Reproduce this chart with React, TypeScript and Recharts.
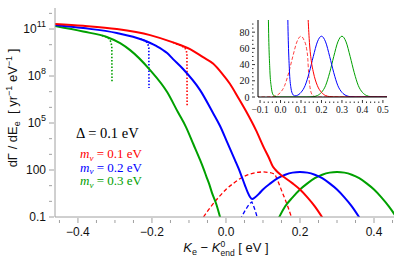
import React from 'react';
import { LineChart, Line, XAxis, YAxis } from 'recharts';

// x = K_e - K0_end [eV], y = dΓ/dE_e [yr^-1 eV^-1]

// m = 0.1 eV: total spectrum (solid)
const redX = [-0.462, -0.386, -0.295, -0.205, -0.143, -0.097, -0.062, -0.035, -0.011, 0.011, 0.032, 0.054, 0.081, 0.103, 0.115, 0.127, 0.133, 0.14, 0.15, 0.16, 0.18, 0.2, 0.22, 0.24, 0.26, 0.28, 0.53];
const redY = [2.1e11, 1.6e11, 1.0e11, 4.1e10, 1.4e10, 5.2e9, 1.6e9, 6.3e8, 1.5e8, 3.1e7, 4.6e6, 5.8e5, 3.5e4, 2.5e3, 680, 160, 108, 72, 45, 31, 14, 5.7, 1.8, 0.48, 0.096, 0.016, 0.0001];
// m = 0.1 eV: dashed (relic peak, then beta tail past the crossing)
const redDashX = [-0.12, -0.08, -0.062, -0.04, -0.02, 0, 0.02, 0.04, 0.06, 0.08, 0.1, 0.115, 0.127, 0.133, 0.137, 0.141, 0.146, 0.152, 0.16, 0.168, 0.178, 0.19, 0.53];
const redDashY = [0.0001, 0.016, 0.09, 0.48, 1.8, 5.7, 14, 30, 50, 68, 75, 70, 60, 48, 30, 18, 9, 3.8, 1.3, 0.4, 0.08, 0.008, 0.0001];
// m = 0.1 eV: unsmeared endpoint (dotted)
const redDotX = [-0.143, -0.125, -0.115, -0.11, -0.107, -0.1055, -0.105];
const redDotY = [1.4e10, 9.4e9, 7.2e9, 5.6e9, 4.0e9, 2.6e9, 1.1e6];

// m = 0.2 eV
const blueX = [-0.462, -0.386, -0.295, -0.224, -0.19, -0.159, -0.143, -0.116, -0.07, -0.035, -0.016, 0.004, 0.024, 0.034, 0.043, 0.051, 0.059, 0.065, 0.071, 0.078, 0.09, 0.1, 0.12, 0.14, 0.16, 0.18, 0.2, 0.22, 0.24, 0.26, 0.28, 0.3, 0.32, 0.34, 0.36, 0.38, 0.53];
const blueY = [1.8e11, 1.15e11, 5.6e10, 2.0e10, 8.7e9, 2.9e9, 1.2e9, 2.8e8, 1.26e7, 4.4e5, 6.5e4, 5.4e3, 440, 125, 35, 11, 3.6, 1.9, 1.4, 1.75, 3.2, 5.7, 14, 30, 50, 68, 75, 68, 50, 30, 14, 5.7, 1.8, 0.48, 0.096, 0.016, 0.0001];
const blueDashX = [0.03, 0.042, 0.05, 0.058, 0.064, 0.07, 0.074, 0.078, 0.082, 0.086, 0.1];
const blueDashY = [0.01, 0.1, 0.22, 0.45, 0.72, 0.9, 0.55, 0.3, 0.15, 0.07, 0.005];
const blueDotX = [-0.232, -0.222, -0.215, -0.211, -0.2085, -0.208];
const blueDotY = [2.4e10, 1.9e10, 1.5e10, 1.1e10, 6.5e9, 1.7e7];

// m = 0.3 eV
const greenX = [-0.462, -0.386, -0.322, -0.286, -0.259, -0.205, -0.159, -0.13, -0.108, -0.088, -0.07, -0.06, -0.052, -0.045, -0.038, -0.027, -0.016, -0.005, 0.125, 0.144, 0.16, 0.18, 0.2, 0.22, 0.24, 0.26, 0.28, 0.3, 0.32, 0.34, 0.36, 0.38, 0.4, 0.42, 0.44, 0.46, 0.48, 0.53];
const greenY = [1.55e11, 6.9e10, 3.1e10, 1.26e10, 4.5e9, 2.4e8, 9.5e6, 5.0e5, 5.5e4, 4.4e3, 440, 110, 33, 12, 3.6, 0.75, 0.1, 0.012, 0.012, 0.1, 0.48, 1.8, 5.7, 14, 30, 50, 68, 75, 68, 50, 30, 14, 5.7, 1.8, 0.48, 0.1, 0.016, 0.0001];
const greenDotX = [-0.335, -0.322, -0.315, -0.311, -0.3085, -0.308];
const greenDotY = [3.8e10, 3.1e10, 2.3e10, 1.5e10, 8e9, 4.3e7];

const massLabels = ['0.1', '0.2', '0.3'];

// ticks
const mainXTicks = [-0.45, -0.4, -0.35, -0.3, -0.25, -0.2, -0.15, -0.1, -0.05, 0, 0.05, 0.1, 0.15, 0.2, 0.25, 0.3, 0.35, 0.4, 0.45];
const mainXLabels = [-0.4, -0.2, 0, 0.2, 0.4];
const mainYTicks = [0.1, 1, 10, 100, 1e3, 1e4, 1e5, 1e6, 1e7, 1e8, 1e9, 1e10, 1e11, 1e12];
const mainYLabels = [0.1, 100, 1e5, 1e8, 1e11];
const mainYLabelBase = ['0.1', '100', '10', '10', '10'];
const mainYLabelExp = ['', '', '5', '8', '11'];
const insetXTicks = [-0.1, -0.08, -0.06, -0.04, -0.02, 0, 0.02, 0.04, 0.06, 0.08, 0.1, 0.12, 0.14, 0.16, 0.18, 0.2, 0.22, 0.24, 0.26, 0.28, 0.3, 0.32, 0.34, 0.36, 0.38, 0.4, 0.42, 0.44, 0.46, 0.48, 0.5];
const insetXLabels = [-0.1, 0, 0.1, 0.2, 0.3, 0.4, 0.5];
const insetYTicks = [0, 5, 10, 15, 20, 25, 30, 35, 40, 45, 50, 55, 60, 65, 70, 75, 80, 85, 90];
const insetYLabels = [0, 20, 40, 60, 80];

const RED = '#ff0000';
const BLUE = '#0000ff';
const GREEN = '#00a000';
const FRAME = '#a0a0a0';
const SANS = '"Liberation Sans", Arial, sans-serif';
const SERIF = '"Liberation Serif", "Times New Roman", serif';

const pts = (xs: number[], ys: number[]) => xs.map((x, i) => ({ x, y: ys[i] }));
// the inset only needs the part of each curve near its window
const insetPts = (xs: number[], ys: number[]) => pts(xs, ys).filter((p) => p.x >= -0.13 && p.y <= 2e4);

const idx = (arr: number[], v: number) => arr.findIndex((a) => Math.abs(a - v) <= 1e-9 * Math.max(1, Math.abs(a)));
const fmt1 = (v: number) => (v < -1e-9 ? '\u2212' : '') + Math.abs(v).toFixed(1);

const MainBottomTick = ({ x, y, payload }: any) => {
  const major = idx(mainXLabels, payload.value) >= 0;
  return (
    <g>
      <line x1={x} x2={x} y1={y} y2={y - (major ? 5 : 3)} stroke={FRAME} />
      {major && (
        <text x={x} y={y + 13} textAnchor="middle" fontSize={12} fontFamily={SANS} fill="#111">
          {fmt1(payload.value)}
        </text>
      )}
    </g>
  );
};

const MainTopTick = ({ x, y, payload }: any) => {
  const major = idx(mainXLabels, payload.value) >= 0;
  return <line x1={x} x2={x} y1={y} y2={y + (major ? 5 : 3)} stroke={FRAME} />;
};

const MainLeftTick = ({ x, y, payload }: any) => {
  const i = idx(mainYLabels, payload.value);
  return (
    <g>
      <line x1={x} x2={x + (i >= 0 ? 5 : 3)} y1={y} y2={y} stroke={FRAME} />
      {i >= 0 && (
        <text x={x - 3} y={y + 4} textAnchor="end" fontSize={12} fontFamily={SANS} fill="#111">
          {mainYLabelBase[i]}
          {mainYLabelExp[i] && (
            <tspan fontSize={9} dy={-6}>
              {mainYLabelExp[i]}
            </tspan>
          )}
        </text>
      )}
    </g>
  );
};

const MainRightTick = ({ x, y, payload }: any) => {
  const major = idx(mainYLabels, payload.value) >= 0;
  return <line x1={x} x2={x - (major ? 5 : 3)} y1={y} y2={y} stroke={FRAME} />;
};

const InsetBottomTick = ({ x, y, payload }: any) => {
  const major = idx(insetXLabels, payload.value) >= 0;
  return (
    <g>
      <line x1={x} x2={x} y1={y} y2={y - (major ? 3 : 1.5)} stroke="#000" strokeWidth={0.8} />
      {major && (
        <text x={x} y={y + 9.5} textAnchor="middle" fontSize={9.5} fontFamily={SERIF} fill="#111">
          {fmt1(payload.value)}
        </text>
      )}
    </g>
  );
};

const InsetTopTick = ({ x, y, payload }: any) => {
  const major = idx(insetXLabels, payload.value) >= 0;
  return <line x1={x} x2={x} y1={y} y2={y + (major ? 3 : 1.5)} stroke="#000" strokeWidth={0.8} />;
};

const InsetLeftTick = ({ x, y, payload }: any) => {
  const major = idx(insetYLabels, payload.value) >= 0;
  return (
    <g>
      <line x1={x} x2={x + (major ? 3 : 1.5)} y1={y} y2={y} stroke="#000" strokeWidth={0.8} />
      {major && (
        <text x={x - 2.5} y={y + 3.5} textAnchor="end" fontSize={10} fontFamily={SERIF} fill="#111">
          {payload.value}
        </text>
      )}
    </g>
  );
};

const InsetRightTick = ({ x, y, payload }: any) => {
  const major = idx(insetYLabels, payload.value) >= 0;
  return <line x1={x} x2={x - (major ? 3 : 1.5)} y1={y} y2={y} stroke="#000" strokeWidth={0.8} />;
};

const lineBase = { dataKey: 'y', dot: false, activeDot: false, isAnimationActive: false } as const;

export default function App() {
  const legendColors = [RED, BLUE, GREEN];
  return (
    <div style={{ position: 'relative', width: 405, height: 263, background: '#fff' }}>
      <style>{`body { margin: 0; }`}</style>

      <LineChart width={405} height={263} margin={{ top: 8, right: 11, bottom: 0, left: 0 }}>
        <XAxis
          dataKey="x"
          type="number"
          domain={[-0.462, 0.454]}
          allowDataOverflow
          ticks={mainXTicks}
          interval={0}
          height={46}
          tickLine={false}
          tickMargin={0}
          stroke={FRAME}
          tick={(p: any) => <MainBottomTick {...p} />}
        />
        <XAxis
          xAxisId="top"
          orientation="top"
          dataKey="x"
          type="number"
          domain={[-0.462, 0.454]}
          allowDataOverflow
          ticks={mainXTicks}
          interval={0}
          height={0}
          tickLine={false}
          tickMargin={0}
          stroke={FRAME}
          tick={(p: any) => <MainTopTick {...p} />}
        />
        <YAxis
          scale="log"
          type="number"
          domain={[0.1, 2.2e12]}
          allowDataOverflow
          ticks={mainYTicks}
          interval={0}
          width={55}
          tickLine={false}
          tickMargin={0}
          stroke={FRAME}
          tick={(p: any) => <MainLeftTick {...p} />}
        />
        <YAxis
          yAxisId="right"
          orientation="right"
          scale="log"
          type="number"
          domain={[0.1, 2.2e12]}
          allowDataOverflow
          ticks={mainYTicks}
          interval={0}
          width={0}
          tickLine={false}
          tickMargin={0}
          stroke={FRAME}
          tick={(p: any) => <MainRightTick {...p} />}
        />

        <Line {...lineBase} data={pts(redDotX, redDotY)} type="linear" stroke={RED} strokeWidth={1.6} strokeDasharray="1.5 1.8" />
        <Line {...lineBase} data={pts(blueDotX, blueDotY)} type="linear" stroke={BLUE} strokeWidth={1.6} strokeDasharray="1.5 1.8" />
        <Line {...lineBase} data={pts(greenDotX, greenDotY)} type="linear" stroke={GREEN} strokeWidth={1.6} strokeDasharray="1.5 1.8" />

        <Line {...lineBase} data={pts(redDashX, redDashY)} type="monotone" stroke={RED} strokeWidth={1.3} strokeDasharray="4 2.5" />
        <Line {...lineBase} data={pts(blueDashX, blueDashY)} type="linear" stroke={BLUE} strokeWidth={1.3} strokeDasharray="4 2.5" />

        <Line {...lineBase} data={pts(greenX, greenY)} type="monotone" stroke={GREEN} strokeWidth={2} />
        <Line {...lineBase} data={pts(blueX, blueY)} type="monotone" stroke={BLUE} strokeWidth={2} />
        <Line {...lineBase} data={pts(redX, redY)} type="monotone" stroke={RED} strokeWidth={2} />
      </LineChart>

      <div style={{ position: 'absolute', left: 225, top: 12 }}>
        <LineChart width={170} height={112} margin={{ top: 8, right: 8, bottom: 0, left: 0 }}>
          <XAxis
            dataKey="x"
            type="number"
            domain={[-0.11, 0.52]}
            allowDataOverflow
            ticks={insetXTicks}
            interval={0}
            height={27}
            tickLine={false}
            tickMargin={0}
            stroke="#000"
            tick={(p: any) => <InsetBottomTick {...p} />}
          />
          <XAxis
            xAxisId="top"
            orientation="top"
            dataKey="x"
            type="number"
            domain={[-0.11, 0.52]}
            allowDataOverflow
            ticks={insetXTicks}
            interval={0}
            height={0}
            tickLine={false}
            tickMargin={0}
            stroke="#000"
            tick={(p: any) => <InsetTopTick {...p} />}
          />
          <YAxis
            type="number"
            domain={[0, 95]}
            allowDataOverflow
            ticks={insetYTicks}
            interval={0}
            width={33}
            tickLine={false}
            tickMargin={0}
            stroke="#000"
            tick={(p: any) => <InsetLeftTick {...p} />}
          />
          <YAxis
            yAxisId="right"
            orientation="right"
            type="number"
            domain={[0, 95]}
            allowDataOverflow
            ticks={insetYTicks}
            interval={0}
            width={0}
            tickLine={false}
            tickMargin={0}
            stroke="#000"
            tick={(p: any) => <InsetRightTick {...p} />}
          />
          <Line {...lineBase} data={insetPts(redDashX, redDashY)} type="monotone" stroke={RED} strokeWidth={1} strokeDasharray="3.5 2" strokeOpacity={0.75} />
          <Line {...lineBase} data={insetPts(greenX, greenY)} type="monotone" stroke={GREEN} strokeWidth={1} />
          <Line {...lineBase} data={insetPts(blueX, blueY)} type="monotone" stroke={BLUE} strokeWidth={1} />
          <Line {...lineBase} data={insetPts(redX, redY)} type="monotone" stroke={RED} strokeWidth={1} />
        </LineChart>
      </div>

      <svg width={405} height={263} style={{ position: 'absolute', left: 0, top: 0, pointerEvents: 'none' }}>
        <text transform="translate(17,108) rotate(-90)" textAnchor="middle" fontSize={13} fontFamily={SANS} fill="#111">
          dΓ / dE
          <tspan fontSize={9} dy={3}>e</tspan>
          <tspan dy={-3}>{'\u00a0\u00a0[ yr'}</tspan>
          <tspan fontSize={9} dy={-5}>{'\u22121'}</tspan>
          <tspan dy={5}> eV</tspan>
          <tspan fontSize={9} dy={-5}>{'\u22121'}</tspan>
          <tspan dy={5}>{'\u00a0]'}</tspan>
        </text>
        <text x={226} y={252} textAnchor="middle" fontSize={13} fontFamily={SANS} fill="#111">
          <tspan fontStyle="italic">K</tspan>
          <tspan fontSize={9} dy={3}>e</tspan>
          <tspan dy={-3}>{' \u2212 '}</tspan>
          <tspan fontStyle="italic">K</tspan>
          <tspan fontSize={8.5} dy={-5}>0</tspan>
          <tspan fontSize={8.5} dx={-4.7} dy={8.5}>end</tspan>
          <tspan dy={-3.5}>{' [ eV ]'}</tspan>
        </text>
        <text x={76} y={138} fontSize={14.5} fontFamily={SERIF} fill="#000">
          Δ = 0.1 eV
        </text>
        {massLabels.map((m, i) => (
          <text key={m} x={80} y={158 + i * 13.5} fontSize={13} fontFamily={SERIF} fill={legendColors[i]}>
            <tspan fontStyle="italic">m</tspan>
            <tspan fontStyle="italic" fontSize={9} dy={2.5}>ν</tspan>
            <tspan dy={-2.5}>{` = ${m} eV`}</tspan>
          </text>
        ))}
      </svg>
    </div>
  );
}
